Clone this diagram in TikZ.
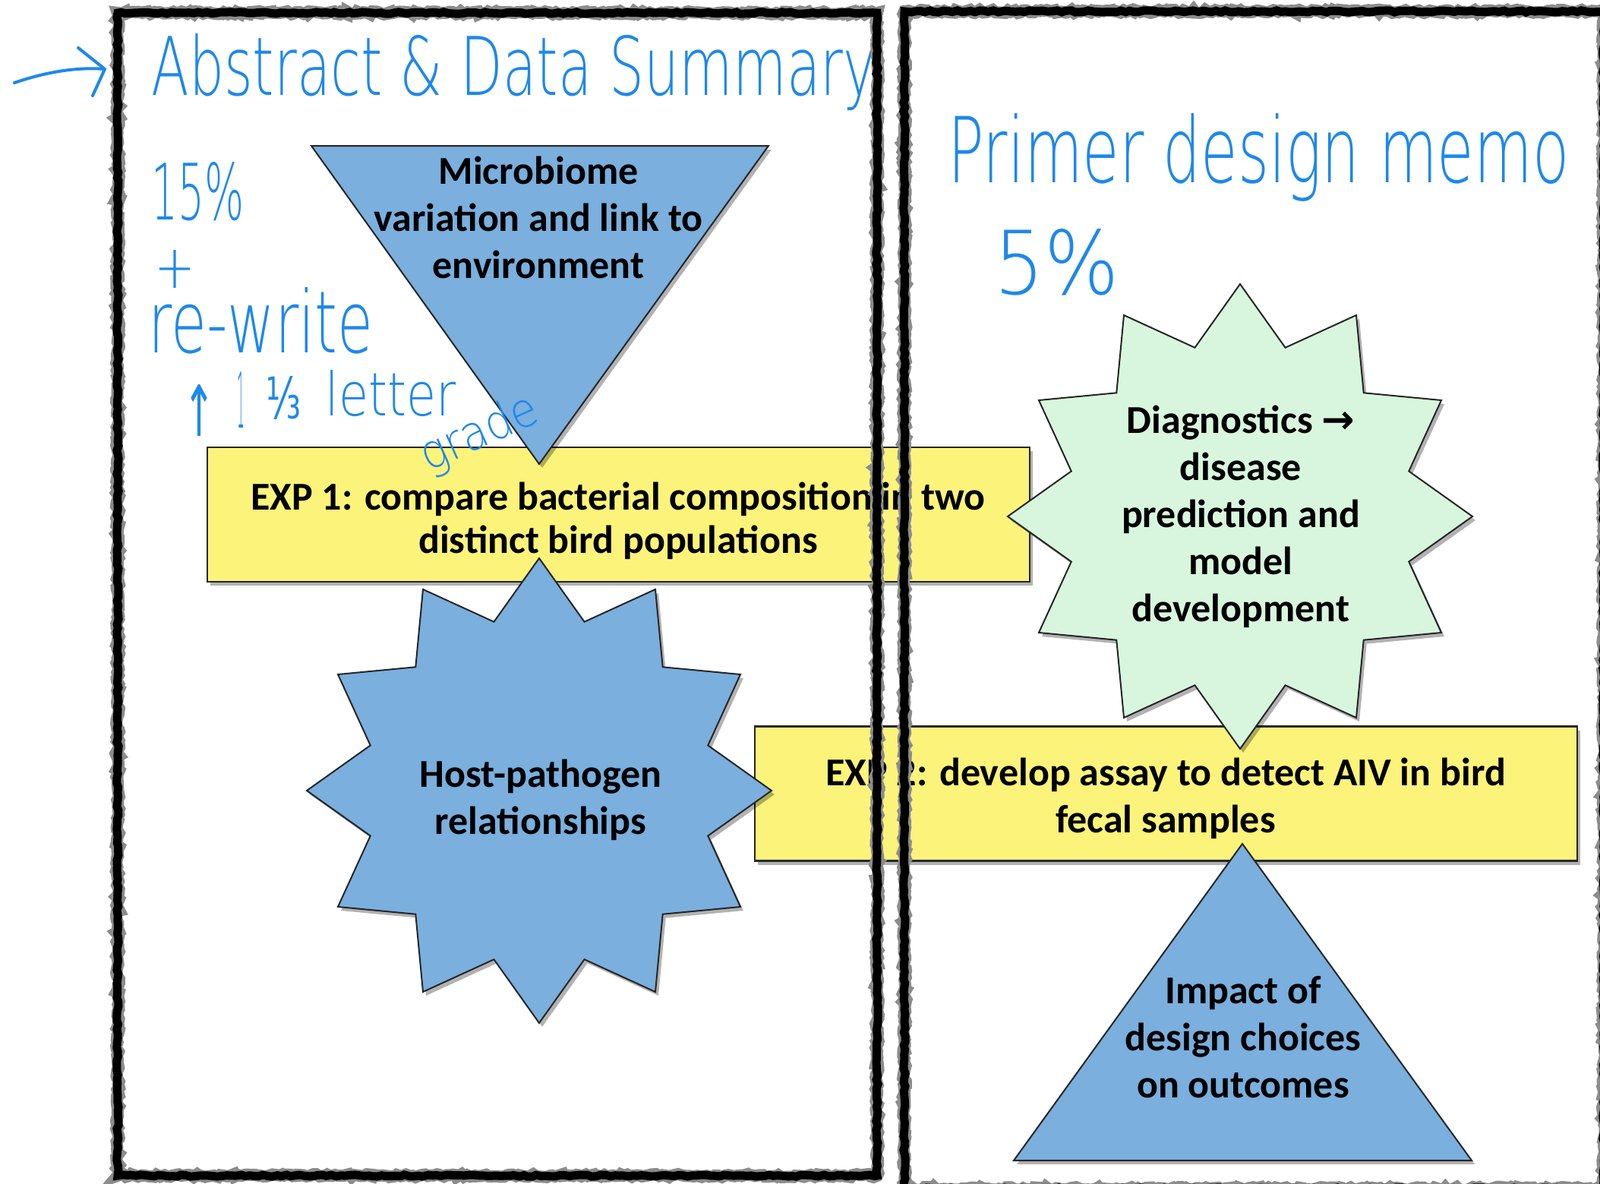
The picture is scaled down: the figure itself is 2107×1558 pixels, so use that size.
\documentclass[tikz,border=0pt]{standalone}
\usepackage{fontspec}
\usepackage{graphicx}
\setmainfont{Carlito}
\newfontfamily\hand{DejaVu Sans ExtraLight}
\newfontfamily\symb{DejaVu Sans}
\usetikzlibrary{shapes.geometric,shadows,decorations.pathmorphing}
\definecolor{shapeblue}{RGB}{122,175,222}
\definecolor{boxyellow}{RGB}{252,243,122}
\definecolor{mint}{RGB}{216,246,221}
\definecolor{pen}{RGB}{30,136,235}
\tikzset{
  shd/.style={drop shadow={shadow xshift=2pt,shadow yshift=-2.5pt,opacity=0.3,fill=black}},
  bluefill/.style={fill=shapeblue,draw=black!85,line width=1pt,shd},
  ybox/.style={rectangle,fill=boxyellow,draw=black!85,line width=1.3pt,shd,
    minimum width=541.5pt,minimum height=88.5pt,inner sep=0pt,align=center},
  starshape/.style={star,star points=12,star point ratio=1.33,minimum size=306pt,
    inner sep=0pt,draw=black!85,line width=1pt,shd},
  lbl/.style={font=\fontsize{26}{31}\selectfont\bfseries,align=center,inner sep=0pt},
  hw/.style={pen,inner sep=0pt,anchor=base west},
  pentrace/.style={draw=pen,line width=2pt,line cap=round,line join=round},
  framefuzz/.style={draw=black!45,line width=8pt,decorate,
    decoration={random steps,segment length=2pt,amplitude=1pt}},
  frameline/.style={draw=black,line width=5.5pt,decorate,
    decoration={random steps,segment length=3pt,amplitude=0.6pt}}
}
\begin{document}
\begin{tikzpicture}[x=0.5pt,y=-0.5pt]
\useasboundingbox (0,0) rectangle (2107,1558);
\clip (0,0) rectangle (2107,1558);
\fill[white] (0,0) rectangle (2107,1558);

% yellow boxes
\node[ybox] (exp1) at (814.5,677.5) {};
\node[lbl,font=\fontsize{26}{28.5}\selectfont\bfseries] (exp1t) at (814,686) {EXP 1: compare bacterial composition in two\\distinct bird populations};
\node[ybox] (exp2) at (1535.5,1045) {};
\node[lbl] (exp2t) at (1535,1051) {EXP 2: develop assay to detect AIV in bird\\fecal samples};

% inverted triangle
\coordinate (tA) at (410,192);
\coordinate (tB) at (1012,192);
\coordinate (tC) at (710,611);
\path[bluefill] (tA) -- (tB) -- (tC) -- cycle;
\node[lbl] (micro) at (709,286) {Microbiome\\variation and link to\\environment};

% host-pathogen star
\node[starshape,fill=shapeblue] (hpstar) at (710,1041) {};
\node[lbl] (hp) at (712,1053) {Host-pathogen\\relationships};

% diagnostics star
\node[starshape,fill=mint] (dstar) at (1633,680) {};
\node[lbl] (diag) at (1634,680) {Diagnostics {\symb\bfseries →}\\disease\\prediction and\\model\\development};

% upright triangle
\coordinate (uA) at (1335,1528);
\coordinate (uB) at (1938,1528);
\coordinate (uC) at (1636,1111);
\path[bluefill] (uA) -- (uB) -- (uC) -- cycle;
\node[lbl] (impact) at (1637,1366) {Impact of\\design choices\\on outcomes};

% handwritten notes
\node[hw] (abs) at (199,125) {\resizebox{477pt}{40.5pt}{\hand Abstract \& Data Summary}};
\node[hw] (pct15) at (199,289) {\resizebox{61pt}{38pt}{\hand 15\%}};
\node[hw,anchor=center] (plus) at (230,354) {\resizebox{27pt}{25pt}{\hand +}};
\node[hw] (rewrite) at (195,464) {\resizebox{148pt}{43pt}{\hand re-write}};
\node[hw] (uparr) at (241,574) {\resizebox{21pt}{34pt}{\symb ↑}};
\node[hw] (one) at (312,563) {\resizebox{5pt}{37pt}{\hand 1}};
\node[hw] (third) at (350,551) {\resizebox{23pt}{28pt}{\symb ⅓}};
\node[hw] (letter) at (428,547) {\resizebox{86pt}{30pt}{\hand letter}};
\node[hw,anchor=center,rotate=24] (grade) at (632,572) {\resizebox{82pt}{24pt}{\hand grade}};
\node[hw] (primer) at (1248,240) {\resizebox{409pt}{45.5pt}{\hand Primer design memo}};
\node[hw] (pct5) at (1309,387) {\resizebox{82pt}{43pt}{\hand 5\%}};

% hand-drawn arrow pointing at the left frame
\coordinate (arrS) at (19,109);
\coordinate (arrT) at (138,91);
\coordinate (arrU) at (103,63);
\coordinate (arrD) at (122,126);
\path[pentrace] (arrS) .. controls (60,95) and (100,88) .. (arrT);
\path[pentrace] (arrU) -- (arrT) -- (arrD);

% frames
\path[framefuzz] (155,17) rectangle (1155,1548);
\path[frameline] (155,17) rectangle (1155,1548);
\path[framefuzz] (1191,15) rectangle (2112,1565);
\path[frameline] (1191,15) rectangle (2112,1565);
\end{tikzpicture}
\end{document}
